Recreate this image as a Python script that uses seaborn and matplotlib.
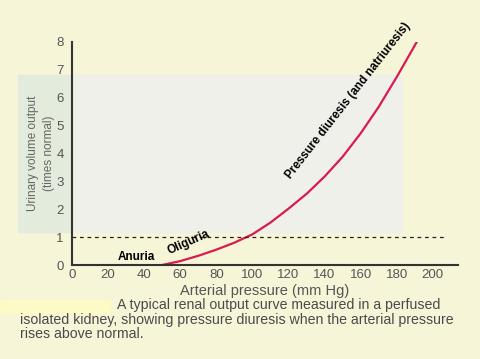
import matplotlib
matplotlib.use("Agg")
import matplotlib.pyplot as plt
import matplotlib.patches as mpatches
import pandas as pd
import seaborn as sns

# renal output curve
pressao = [50, 60, 70, 80, 90, 100, 110, 120, 130, 140, 150, 160, 170, 180, 192]
debito = [0.0, 0.14, 0.33, 0.55, 0.8, 1.1, 1.52, 2.02, 2.55, 3.17, 3.88, 4.72, 5.67, 6.74, 8.1]
xticks = [0, 20, 40, 60, 80, 100, 120, 140, 160, 180, 200]
yticks = [0, 1, 2, 3, 4, 5, 6, 7, 8]
normal = 1
caption = ["A typical renal output curve measured in a perfused",
           "isolated kidney, showing pressure diuresis when the arterial pressure",
           "rises above normal."]

df = pd.DataFrame({"pressao": pressao, "debito": debito})

sns.set_theme(style="white")
plt.rcParams["font.family"] = ["Liberation Sans", "DejaVu Sans"]

W, H = 481, 359
fig = plt.figure(figsize=(W / 100, H / 100), dpi=100)
fig.patch.set_facecolor("#f7f5d8")

# tinted areas of the scan (behind the axes)
fundo = [((18, 232), 54, 157, "#e2ebdc"),
         ((72, 232), 330, 157, "#f0f0ea"),
         ((0, 313), 110, 13, "#fdfac8")]
for (x0, y0), w, h, cor in fundo:
    fig.patches.append(mpatches.Rectangle((x0 / W, 1 - y0 / H), w / W, h / H,
                                          transform=fig.transFigure, color=cor, zorder=-10))

ax = fig.add_axes([72 / W, 1 - 265 / H, 386 / W, 223 / H])
ax.patch.set_alpha(0)

sns.lineplot(data=df, x="pressao", y="debito", color="#d81c4c", linewidth=1.6, ax=ax)
ax.plot([0, 208], [normal, normal], linestyle=(0, (3, 3)), color="#222222", linewidth=0.9)

ax.set_xlim(0, 214)
ax.set_ylim(0, 8)
ax.set_xticks(xticks)
ax.set_yticks(yticks)
ax.tick_params(direction="in", length=3, width=1, colors="#555555", labelsize=9.5, pad=3)
ax.tick_params(axis="y", pad=6)
for s in ["top", "right"]:
    ax.spines[s].set_visible(False)
for s in ["left", "bottom"]:
    ax.spines[s].set_color("#333333")
    ax.spines[s].set_linewidth(1.5)

ax.set_xlabel("Arterial pressure (mm Hg)", fontsize=10.5, color="#555555", labelpad=2)
ax.set_ylabel("Urinary volume output\n(times normal)", fontsize=8.5, color="#666666",
              labelpad=1, linespacing=1.45)

ax.text(35.5, 0.29, "Anuria", fontsize=8.5, fontweight="bold", color="black",
        ha="center", va="center")
ax.text(64.5, 0.82, "Oliguria", fontsize=8.5, fontweight="bold", color="black",
        ha="center", va="center", rotation=24, rotation_mode="anchor")
ax.text(153, 5.9, "Pressure diuresis (and natriuresis)", fontsize=8.5, fontweight="bold",
        color="black", ha="center", va="center", rotation=52, rotation_mode="anchor")

for (x0, y0), linha in zip([(117, 305), (20, 320), (20, 334)], caption):
    fig.text(x0 / W, 1 - y0 / H, linha, fontsize=10.2, color="#4a4a4a", va="center")

plt.savefig("out.png", dpi=100, facecolor=fig.get_facecolor())
plt.close()
